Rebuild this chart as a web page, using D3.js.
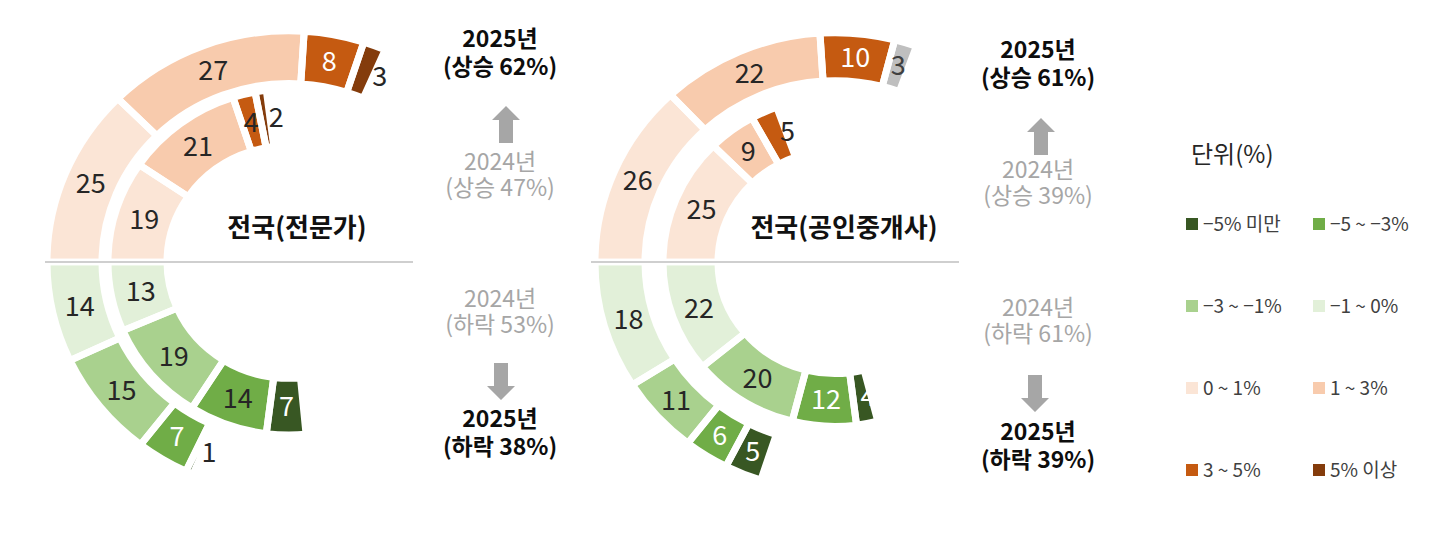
<!DOCTYPE html>
<meta charset="utf-8">
<style>
body { margin: 0; background: #fff; }
text { font-family: "Noto Sans CJK KR", "Noto Sans", sans-serif; }
</style>
<svg width="1450" height="538"></svg>
<script src="https://d3js.org/d3.v7.min.js"></script>
<script>

// categories (legend order follows the picture)
var riseCats = ["0 ~ 1%", "1 ~ 3%", "3 ~ 5%", "5% 이상"];
var fallCats = ["\u22121 ~ 0%", "\u22123 ~ \u22121%", "\u22125 ~ \u22123%", "\u22125% 미만"];
var riseColors = ["#FBE5D6", "#F8CBAD", "#C55A11", "#843C0C"];
var fallColors = ["#E2F0D9", "#A9D18E", "#70AD47", "#385723"];

// 전문가: outer ring = 2025, inner ring = 2024
var expertRise2025 = [25, 27, 8, 3];
var expertRise2024 = [19, 21, 4, 2];
var expertFall2025 = [14, 15, 7, 1];
var expertFall2024 = [13, 19, 14, 7];

// 공인중개사
var agentRise2025 = [26, 22, 10, 3];
var agentRise2024 = [25, 9, 5];
var agentFall2025 = [18, 11, 6, 5];
var agentFall2024 = [22, 20, 12, 4];

// summary column: 2025 상승, 2024 상승, 2024 하락, 2025 하락
var summaryYears = ["2025년", "2024년", "2024년", "2025년"];
var summaryWords = ["상승", "상승", "하락", "하락"];
var expertShares = [62, 47, 53, 38];
var agentShares = [61, 39, 61, 39];

var svg = d3.select("svg"),
    sy = 0.955,   // the picture is slightly squashed vertically
    dark = "#262626";

var angle = d3.scaleLinear().domain([0, 100]).range([0, Math.PI]);

var charts = [
  { title: "전국(전문가)", cx: 289, cy: 262, outer: [187, 242], inner: [122, 181],
    rings: { outer: [expertRise2025, expertFall2025], inner: [expertRise2024, expertFall2024] },
    shares: expertShares, colX: 500, upX: 506, downX: 501,
    rows: [47, 170, 307, 427], upY: 106, downY: 363, titleX: 297,
    nudges: { "outer-rise-3": { t: 16 }, "inner-rise-3": { t: 11 }, "outer-fall-3": { t: 9 },
              "inner-fall-2": { fill: dark } } },
  { title: "전국(공인중개사)", cx: 835, cy: 262, outer: [190, 240], inner: [117, 172],
    rings: { outer: [agentRise2025, agentFall2025], inner: [agentRise2024, agentFall2024] },
    shares: agentShares, colX: 1038, upX: 1041, downX: 1035,
    rows: [58, 178, 316, 440], upY: 118, downY: 375, titleX: 844,
    grey: { "outer-rise-3": "#BFBFBF" },
    nudges: { "inner-rise-2": { t: 13 }, "inner-fall-3": { t: 6, fill: "#fff" },
              "outer-rise-3": { fill: "#404040" } } }
];

charts.forEach(function(c) {
  var segs = [];
  ["outer", "inner"].forEach(function(ring) {
    var radii = c[ring];
    [0, 1].forEach(function(h) {
      var vals = c.rings[ring][h],
          ends = d3.cumsum(vals);
      vals.forEach(function(v, i) {
        var s = ends[i] - v, e = ends[i], key = ring + "-" + (h ? "fall" : "rise") + "-" + i;
        segs.push({
          key: key, value: v, half: h, idx: i, r0: radii[0], r1: radii[1],
          a0: h ? -Math.PI / 2 - angle(e) : -Math.PI / 2 + angle(s),
          a1: h ? -Math.PI / 2 - angle(s) : -Math.PI / 2 + angle(e),
          color: (c.grey && c.grey[key]) || (h ? fallColors[i] : riseColors[i])
        });
      });
    });
  });

  var arc = d3.arc()
      .innerRadius(function(d) { return d.r0; })
      .outerRadius(function(d) { return d.r1; })
      .startAngle(function(d) { return d.a0; })
      .endAngle(function(d) { return d.a1; });

  var g = svg.append("g")
      .attr("transform", "translate(" + c.cx + "," + c.cy + ") scale(1," + sy + ")");

  g.selectAll("path.fill")
    .data(segs)
    .enter().append("path")
      .attr("class", "fill")
      .attr("d", arc)
      .attr("fill", function(d) { return d.color; });

  // white borders between the pieces
  g.selectAll("path.edge")
    .data(segs)
    .enter().append("path")
      .attr("class", "edge")
      .attr("d", arc)
      .attr("fill", "none")
      .attr("stroke", "#fff")
      .attr("stroke-width", 7);

  svg.append("line")
      .attr("x1", c.cx - 244).attr("x2", c.cx + 124)
      .attr("y1", c.cy).attr("y2", c.cy)
      .attr("stroke", "#BFBFBF").attr("stroke-width", 1.6);

  // value labels
  svg.selectAll(null)
    .data(segs)
    .enter().append("text")
      .attr("transform", function(d) {
        var n = c.nudges[d.key] || {},
            a = (d.a0 + d.a1) / 2, r = (d.r0 + d.r1) / 2,
            x = r * Math.sin(a), y = -r * Math.cos(a),
            dir = d.half ? -1 : 1, t = n.t || 0;
        x += dir * Math.cos(a) * t;
        y += dir * Math.sin(a) * t;
        return "translate(" + (c.cx + x) + "," + (c.cy + y * sy) + ")";
      })
      .attr("text-anchor", "middle")
      .attr("dy", "0.36em")
      .attr("font-size", 27)
      .attr("fill", function(d) {
        var n = c.nudges[d.key] || {};
        if (n.fill) return n.fill;
        if (n.t) return dark;
        return (d.idx >= 2 && d.value >= 5) ? "#fff" : dark;
      })
      .text(function(d) { return d.value; });

  svg.append("text")
      .attr("x", c.titleX).attr("y", 237)
      .attr("text-anchor", "middle")
      .attr("font-size", 26).attr("font-weight", "bold")
      .attr("fill", "#111")
      .text(c.title);

  // summary column
  c.rows.forEach(function(y, i) {
    var now = i === 0 || i === 3;
    var t = svg.append("text")
        .attr("text-anchor", "middle")
        .attr("font-size", 23)
        .attr("font-weight", now ? "bold" : "normal")
        .attr("fill", now ? "#0d0d0d" : "#A6A6A6");
    t.append("tspan").attr("x", c.colX).attr("y", y).text(summaryYears[i]);
    t.append("tspan").attr("x", c.colX).attr("y", y + (now ? 28 : 26))
      .text("(" + summaryWords[i] + " " + c.shares[i] + "%)");
  });

  var arrowUp = "M0,0 L14,14 L7,14 L7,37 L-7,37 L-7,14 L-14,14 Z";
  svg.append("path")
      .attr("transform", "translate(" + c.upX + "," + c.upY + ")")
      .attr("d", arrowUp).attr("fill", "#A6A6A6");
  svg.append("path")
      .attr("transform", "translate(" + c.downX + "," + (c.downY + 37) + ") scale(1,-1)")
      .attr("d", arrowUp).attr("fill", "#A6A6A6");
});

// legend
var legendItems = fallCats.map(function(d, i) { return { name: d, color: fallColors[i] }; }).reverse()
    .concat(riseCats.map(function(d, i) { return { name: d, color: riseColors[i] }; }));

svg.append("text")
    .attr("x", 1191).attr("y", 163)
    .attr("font-size", 24).attr("fill", "#262626")
    .text("단위(%)");

var legend = svg.selectAll("g.legend")
  .data(legendItems)
  .enter().append("g")
    .attr("class", "legend")
    .attr("transform", function(d, i) {
      return "translate(" + (1186 + (i % 2) * 127) + "," + (224 + Math.floor(i / 2) * 82) + ")";
    });

legend.append("rect")
    .attr("y", -6).attr("width", 12).attr("height", 12)
    .attr("fill", function(d) { return d.color; });

legend.append("text")
    .attr("x", 17).attr("dy", "0.36em")
    .attr("font-size", 19).attr("fill", "#404040")
    .text(function(d) { return d.name; });

</script>
